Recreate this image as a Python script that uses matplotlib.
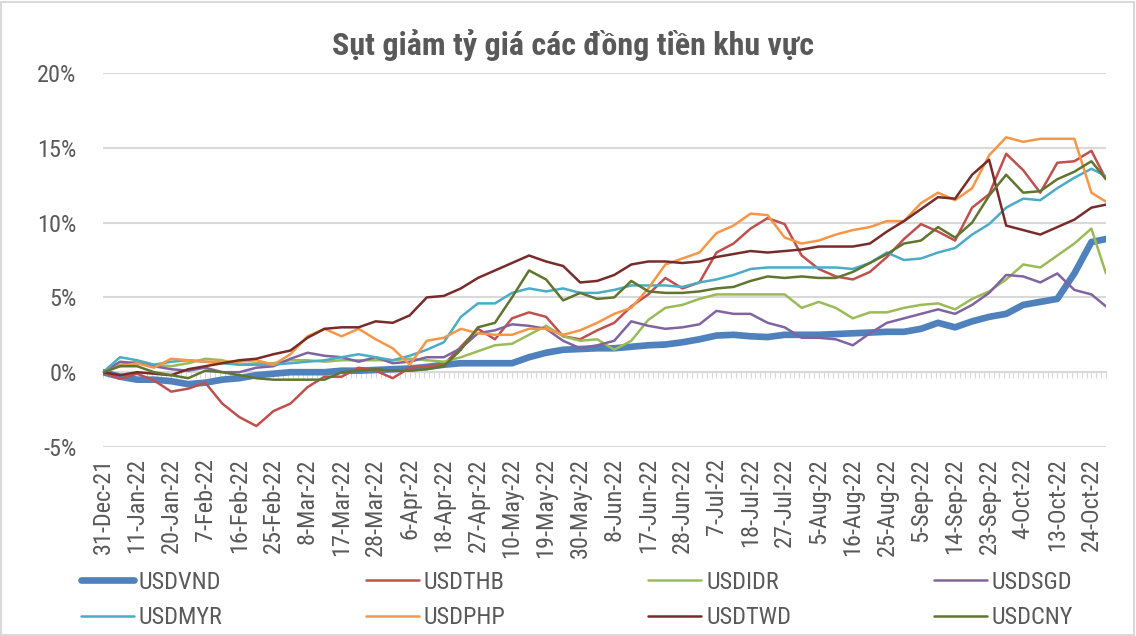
import numpy as np
import matplotlib
matplotlib.use("Agg")
import matplotlib.pyplot as plt
from matplotlib import font_manager
from matplotlib.patches import Rectangle

# Excel look uses Arial Narrow; take a narrow face if one is installed,
# otherwise a regular sans with smaller type so the widths still fit
NARROW = ["Liberation Sans Narrow", "Arial Narrow", "Roboto Condensed",
          "Open Sans Condensed", "DejaVu Sans Condensed", "Noto Sans Condensed"]
installed = {f.name for f in font_manager.fontManager.ttflist}
cond_entries = [f for f in font_manager.fontManager.ttflist
                if str(f.stretch) in ("condensed", "semi-condensed", "extra-condensed")]
face = next((n for n in NARROW if n in installed), None)
stretch = "normal"
if face is None and cond_entries:
    face, stretch = cond_entries[0].name, "condensed"
scale = 1.0
if face is None:
    face = "Liberation Sans" if "Liberation Sans" in installed else "DejaVu Sans"
    scale = 0.82
plt.rcParams["font.family"] = [face, "DejaVu Sans"]
plt.rcParams["font.stretch"] = stretch

TEXT = "#595959"
GRID = "#d9d9d9"

title = "Sụt giảm tỷ giá các đồng tiền khu vực"

date_labels = ["31-Dec-21", "11-Jan-22", "20-Jan-22", "7-Feb-22", "16-Feb-22", "25-Feb-22",
               "8-Mar-22", "17-Mar-22", "28-Mar-22", "6-Apr-22", "18-Apr-22", "27-Apr-22",
               "10-May-22", "19-May-22", "30-May-22", "8-Jun-22", "17-Jun-22", "28-Jun-22",
               "7-Jul-22", "18-Jul-22", "27-Jul-22", "5-Aug-22", "16-Aug-22", "25-Aug-22",
               "5-Sep-22", "14-Sep-22", "23-Sep-22", "4-Oct-22", "13-Oct-22", "24-Oct-22"]
n_days = 207      # trading days on the category axis
label_step = 7    # one date label every 7 trading days

y_ticks = [-5, 0, 5, 10, 15, 20]
y_labels = ["-5%", "0%", "5%", "10%", "15%", "20%"]

# readings (in %) every half label interval, last one on the final day
sample_pos = list(np.arange(0, 204, 3.5)) + [206]

usdvnd = [0, -0.3, -0.5, -0.5, -0.6, -0.8, -0.7, -0.5, -0.4, -0.2,
          -0.1, 0.0, 0.0, 0.0, 0.1, 0.1, 0.15, 0.2, 0.25, 0.35,
          0.5, 0.6, 0.6, 0.6, 0.6, 1.0, 1.3, 1.5, 1.55, 1.6,
          1.6, 1.7, 1.8, 1.85, 2.0, 2.2, 2.45, 2.5, 2.4, 2.35,
          2.5, 2.5, 2.5, 2.55, 2.6, 2.65, 2.7, 2.7, 2.9, 3.3,
          3.0, 3.4, 3.7, 3.9, 4.5, 4.7, 4.9, 6.6, 8.7, 8.9]
usdthb = [0, -0.45, -0.1, -0.55, -1.3, -1.1, -0.7, -2.1, -3.0, -3.6,
          -2.6, -2.1, -1.0, -0.3, -0.3, 0.3, 0.1, -0.4, 0.3, 0.4,
          0.5, 1.7, 2.9, 2.2, 3.6, 4.0, 3.7, 2.4, 2.2, 2.8,
          3.3, 4.4, 5.2, 6.3, 5.6, 6.0, 8.0, 8.6, 9.6, 10.3,
          9.9, 7.8, 6.9, 6.4, 6.2, 6.7, 7.7, 8.9, 9.9, 9.4,
          8.8, 11.0, 11.9, 14.6, 13.5, 12.0, 14.0, 14.1, 14.8, 12.9]
usdidr = [0, 0.5, 0.7, 0.5, 0.4, 0.6, 0.9, 0.8, 0.5, 0.6,
          0.6, 0.8, 0.8, 0.7, 0.8, 0.8, 0.8, 0.8, 0.9, 0.8,
          0.7, 1.0, 1.4, 1.8, 1.9, 2.5, 3.1, 2.4, 2.1, 2.2,
          1.5, 2.1, 3.5, 4.3, 4.5, 4.9, 5.2, 5.2, 5.2, 5.2,
          5.2, 4.3, 4.7, 4.3, 3.6, 4.0, 4.0, 4.3, 4.5, 4.6,
          4.2, 4.9, 5.4, 6.2, 7.2, 7.0, 7.8, 8.6, 9.6, 6.6]
usdsgd = [0, 0.7, 0.6, 0.4, 0.2, 0.1, 0.3, 0.0, 0.0, 0.3,
          0.4, 0.9, 1.3, 1.1, 1.0, 0.7, 1.0, 0.6, 0.7, 1.0,
          1.0, 1.6, 2.6, 2.8, 3.2, 3.1, 2.9, 2.1, 1.6, 1.8,
          2.1, 3.4, 3.1, 2.9, 3.0, 3.2, 4.1, 3.9, 3.9, 3.3,
          3.0, 2.3, 2.3, 2.2, 1.8, 2.6, 3.3, 3.6, 3.9, 4.2,
          3.9, 4.5, 5.3, 6.5, 6.4, 6.0, 6.6, 5.5, 5.2, 4.4]
usdmyr = [0, 1.0, 0.8, 0.5, 0.7, 0.8, 0.7, 0.6, 0.5, 0.5,
          0.5, 0.6, 0.7, 0.8, 1.0, 1.2, 1.0, 0.8, 1.1, 1.5,
          2.0, 3.7, 4.6, 4.6, 5.3, 5.6, 5.4, 5.6, 5.3, 5.3,
          5.5, 5.8, 5.8, 5.8, 5.7, 6.0, 6.2, 6.5, 6.9, 7.0,
          7.0, 7.0, 7.0, 7.0, 6.9, 7.3, 8.0, 7.5, 7.6, 8.0,
          8.3, 9.2, 9.9, 11.0, 11.6, 11.5, 12.3, 13.0, 13.6, 13.1]
usdphp = [0, 0.4, 0.6, 0.3, 0.9, 0.8, 0.7, 0.7, 0.7, 0.8,
          0.5, 1.2, 2.4, 2.9, 2.4, 2.9, 2.2, 1.6, 0.5, 2.1,
          2.3, 2.9, 2.6, 2.5, 2.5, 2.9, 2.9, 2.5, 2.8, 3.3,
          3.9, 4.3, 5.6, 7.2, 7.6, 8.0, 9.3, 9.8, 10.6, 10.5,
          9.0, 8.6, 8.8, 9.2, 9.5, 9.7, 10.1, 10.1, 11.3, 12.0,
          11.5, 12.3, 14.5, 15.7, 15.4, 15.6, 15.6, 15.6, 12.0, 11.4]
usdtwd = [0, -0.2, 0.0, -0.1, -0.2, 0.2, 0.4, 0.6, 0.8, 0.9,
          1.2, 1.45, 2.3, 2.9, 3.0, 3.0, 3.4, 3.3, 3.8, 5.0,
          5.1, 5.6, 6.3, 6.8, 7.3, 7.8, 7.4, 7.1, 6.0, 6.1,
          6.5, 7.2, 7.4, 7.4, 7.3, 7.4, 7.7, 7.9, 8.1, 8.0,
          8.1, 8.2, 8.4, 8.4, 8.4, 8.6, 9.4, 10.1, 10.9, 11.7,
          11.6, 13.2, 14.2, 9.8, 9.5, 9.2, 9.7, 10.2, 11.0, 11.2]
usdcny = [0, 0.4, 0.4, 0.0, -0.2, -0.4, 0.1, 0.0, -0.2, -0.4,
          -0.5, -0.5, -0.5, -0.5, 0.0, 0.1, 0.2, 0.1, 0.1, 0.2,
          0.4, 1.5, 3.0, 3.3, 5.0, 6.8, 6.2, 4.8, 5.3, 4.9,
          5.0, 6.1, 5.4, 5.3, 5.3, 5.4, 5.6, 5.7, 6.1, 6.4,
          6.3, 6.4, 6.3, 6.3, 6.7, 7.3, 7.9, 8.6, 8.8, 9.7,
          9.0, 10.0, 11.8, 13.2, 12.0, 12.1, 12.9, 13.4, 14.1, 12.9]

series = [
    ("USDVND", usdvnd, "#4F81BD", 4.8),
    ("USDTHB", usdthb, "#C0504D", 1.8),
    ("USDIDR", usdidr, "#9BBB59", 1.8),
    ("USDSGD", usdsgd, "#8064A2", 1.8),
    ("USDMYR", usdmyr, "#4BACC6", 1.8),
    ("USDPHP", usdphp, "#F79646", 1.8),
    ("USDTWD", usdtwd, "#772C2A", 1.8),
    ("USDCNY", usdcny, "#5F7530", 1.8),
]

W, H = 1136, 636
fs = 17.5 * scale
fig = plt.figure(figsize=(W / 100, H / 100), dpi=100)
ax = fig.add_axes([103 / W, 1 - 447 / H, (1106 - 103) / W, (447 - 73) / H])

handles = {}
for name, vals, color, lw in series:
    (ln,) = ax.plot(sample_pos, vals, color=color, lw=lw, label=name,
                    solid_joinstyle="round", solid_capstyle="round")
    handles[name] = ln

ax.set_xlim(0, n_days - 1)
ax.set_ylim(y_ticks[0], y_ticks[-1])
ax.set_yticks(y_ticks)
ax.set_yticklabels(y_labels)
ax.set_xticks(range(0, len(date_labels) * label_step, label_step))
ax.set_xticklabels(date_labels, rotation=90, va="top", ha="center")
ax.tick_params(axis="both", length=0, labelsize=fs, labelcolor=TEXT)
ax.tick_params(axis="y", pad=19)
ax.tick_params(axis="x", pad=8)
ax.grid(axis="y", color=GRID, lw=1.5)
ax.set_axisbelow(True)
for sp in ax.spines.values():
    sp.set_visible(False)

# category axis crossing at 0% with a tick for every trading day
zero_frac = (0 - y_ticks[0]) / (y_ticks[-1] - y_ticks[0])
sec = ax.secondary_xaxis(zero_frac)
sec.set_xticks(range(n_days))
sec.tick_params(length=4.5, width=0.8, color=GRID, labelbottom=False, direction="out")
sec.spines["bottom"].set_color(GRID)
sec.spines["bottom"].set_linewidth(1.5)

fig.text(573 / W, 1 - 45 / H, title, ha="center", va="center",
         fontsize=23 * scale, fontweight="bold", color=TEXT)

# legend reads row by row, matplotlib fills column by column
order = ["USDVND", "USDMYR", "USDTHB", "USDPHP", "USDIDR", "USDTWD", "USDSGD", "USDCNY"]
fig.legend([handles[n] for n in order], order, ncol=4, loc="center",
           bbox_to_anchor=(0.508, 1 - 600 / H), frameon=False, fontsize=fs,
           labelcolor=TEXT, handlelength=53 / (fs * 100 / 72), handletextpad=0.2,
           columnspacing=143 / (fs * 100 / 72), labelspacing=0.5)

fig.add_artist(Rectangle((0.001, 0.001), 0.997, 0.996, transform=fig.transFigure,
                         fill=False, edgecolor=GRID, lw=1.5))

fig.savefig("out.png", dpi=100)
